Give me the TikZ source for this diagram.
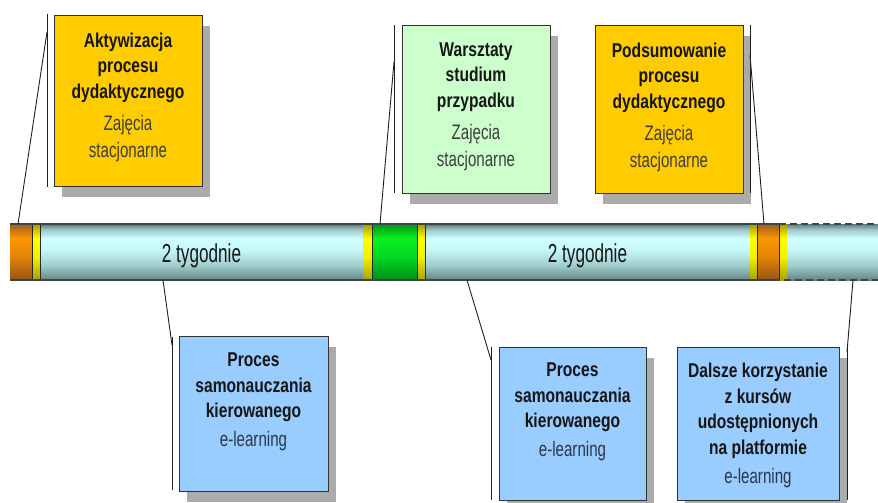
\documentclass[tikz,border=0pt]{standalone}
\usepackage{fontspec}
\setmainfont{Liberation Sans}
\newfontfamily\titlefont{Liberation Sans}[FakeStretch=0.78]
\newfontfamily\subfont{Liberation Sans}[FakeStretch=0.72]
\newfontfamily\barfont{Liberation Sans}[FakeStretch=0.66]
\usetikzlibrary{shadows}

% panel colours
\definecolor{boxgold}{RGB}{255,204,0}
\definecolor{boxmint}{RGB}{204,255,204}
\definecolor{boxblue}{RGB}{153,204,255}
\definecolor{inkdark}{RGB}{22,22,22}
\definecolor{inksub}{RGB}{62,62,62}
\definecolor{inksubblue}{RGB}{45,55,75}
\definecolor{rimdark}{RGB}{60,70,70}

% time bar colours (bottom -> top)
\definecolor{cyA}{RGB}{100,132,132}
\definecolor{cyB}{RGB}{160,205,205}
\definecolor{cyC}{RGB}{198,248,248}
\definecolor{cyD}{RGB}{208,255,255}
\definecolor{cyE}{RGB}{160,200,200}
\definecolor{cyF}{RGB}{92,122,122}
\definecolor{orA}{RGB}{150,85,20}
\definecolor{orB}{RGB}{225,130,10}
\definecolor{orC}{RGB}{252,150,0}
\definecolor{orD}{RGB}{160,95,30}
\definecolor{grA}{RGB}{0,140,20}
\definecolor{grB}{RGB}{0,215,35}
\definecolor{grC}{RGB}{10,240,30}
\definecolor{grD}{RGB}{0,150,20}
\definecolor{ylA}{RGB}{165,160,0}
\definecolor{ylB}{RGB}{240,240,0}
\definecolor{ylC}{RGB}{255,255,0}
\definecolor{ylD}{RGB}{165,155,0}

\pgfdeclareverticalshading{cyanband}{100bp}{color(0bp)=(cyA); color(25bp)=(cyA);
  color(38bp)=(cyB); color(52bp)=(cyC); color(62bp)=(cyD); color(70bp)=(cyE);
  color(75bp)=(cyF); color(100bp)=(cyF)}
\pgfdeclareverticalshading{orangeband}{100bp}{color(0bp)=(orA); color(25bp)=(orA);
  color(45bp)=(orB); color(62bp)=(orC); color(75bp)=(orD); color(100bp)=(orD)}
\pgfdeclareverticalshading{greenband}{100bp}{color(0bp)=(grA); color(25bp)=(grA);
  color(45bp)=(grB); color(62bp)=(grC); color(75bp)=(grD); color(100bp)=(grD)}
\pgfdeclareverticalshading{yellowband}{100bp}{color(0bp)=(ylA); color(25bp)=(ylA);
  color(45bp)=(ylB); color(62bp)=(ylC); color(75bp)=(ylD); color(100bp)=(ylD)}

\newcommand\subline[2]{{\fontsize{21}{27}\subfont\mdseries\color{#1}#2}}

\tikzset{
  panel/.style={draw=black!80, line width=0.9pt, inner sep=0pt, outer sep=0pt,
    drop shadow={shadow xshift=8pt, shadow yshift=-11pt, fill=black!33, opacity=1}},
  paneltext/.style={anchor=north, align=center, inner sep=0pt,
    font=\fontsize{20}{25.5}\titlefont\bfseries, text=inkdark},
  seg/.style={shade, inner sep=0pt, outer sep=0pt, minimum height=56pt},
  bartext/.style={anchor=base, inner sep=0pt, font=\fontsize{26}{30}\barfont, text=inkdark},
  sepline/.style={draw=black!85, line width=0.7pt},
  rimline/.style={draw=rimdark, line width=1.6pt},
  tailline/.style={draw=rimdark, line width=2.4pt, dash pattern=on 7pt off 4pt},
  callout/.style={draw=black!88, line width=0.9pt},
}

\begin{document}
\begin{tikzpicture}[x=1pt, y=-1pt]
\useasboundingbox (0,0) rectangle (878,503);

% ---------- time bar ----------
\node[seg, shading=orangeband, minimum width=22pt]  (o1) at (21,252) {};
\node[seg, shading=yellowband, minimum width=8pt]   (y1) at (36,252) {};
\node[seg, shading=cyanband,   minimum width=323pt] (c1) at (201.5,252) {};
\node[seg, shading=yellowband, minimum width=9pt]   (y2) at (367.5,252) {};
\node[seg, shading=greenband,  minimum width=45pt]  (g1) at (394.5,252) {};
\node[seg, shading=yellowband, minimum width=8pt]   (y3) at (421,252) {};
\node[seg, shading=cyanband,   minimum width=325pt] (c2) at (587.5,252) {};
\node[seg, shading=yellowband, minimum width=7pt]   (y4) at (753.5,252) {};
\node[seg, shading=orangeband, minimum width=22pt]  (o2) at (768,252) {};
\node[seg, shading=yellowband, minimum width=8pt]   (y5) at (783,252) {};
\node[seg, shading=cyanband,   minimum width=91pt]  (c3) at (832.5,252) {};

% segment borders
\foreach \s in {o1,y1,y2,g1,y3,y4,o2}
  \draw[sepline] (\s.north east) -- (\s.south east);
\draw[rimline] (o1.north west) -- (o2.north east);
\draw[rimline] (o1.south west) -- (o2.south east);
\draw[tailline] (o2.north east) -- (c3.north east);
\draw[tailline] ([xshift=-6pt]o2.south east) -- (c3.south east);

\node[bartext] (w1) at (201.5,262) {2 tygodnie};
\node[bartext] (w2) at (587.5,262) {2 tygodnie};

% ---------- panels above the bar ----------
\node[panel, fill=boxgold, minimum width=148pt, minimum height=171pt] (p1) at (128,100.5) {};
\node[paneltext] (t1) at ([yshift=-17.5pt]p1.north)
  {Aktywizacja\\procesu\\dydaktycznego\\[6.5pt]\subline{inksub}{Zajęcia}\\[1.5pt]\subline{inksub}{stacjonarne}};

\node[panel, fill=boxmint, minimum width=148pt, minimum height=168pt] (p2) at (476,109) {};
\node[paneltext] (t2) at ([yshift=-17.5pt]p2.north)
  {Warsztaty\\studium\\przypadku\\[6.5pt]\subline{inksub}{Zajęcia}\\[1.5pt]\subline{inksub}{stacjonarne}};

\node[panel, fill=boxgold, minimum width=148pt, minimum height=168pt] (p3) at (669,109) {};
\node[paneltext] (t3) at ([yshift=-17.5pt]p3.north)
  {Podsumowanie\\procesu\\dydaktycznego\\[6.5pt]\subline{inksub}{Zajęcia}\\[1.5pt]\subline{inksub}{stacjonarne}};

% ---------- panels below the bar ----------
\node[panel, fill=boxblue, minimum width=149pt, minimum height=155pt] (p4) at (253.5,413.5) {};
\node[paneltext] (t4) at ([yshift=-17pt]p4.north)
  {Proces\\samonauczania\\kierowanego\\[3.5pt]\subline{inksubblue}{e-learning}};

\node[panel, fill=boxblue, minimum width=147pt, minimum height=153pt] (p5) at (572.5,423.5) {};
\node[paneltext] (t5) at ([yshift=-16pt]p5.north)
  {Proces\\samonauczania\\kierowanego\\[3.5pt]\subline{inksubblue}{e-learning}};

\node[panel, fill=boxblue, minimum width=162pt, minimum height=153pt] (p6) at (758,423.5) {};
\node[paneltext] (t6) at ([yshift=-16pt]p6.north)
  {Dalsze korzystanie\\z kursów\\udostępnionych\\na platformie\\[3.5pt]\subline{inksubblue}{e-learning}};

% ---------- callout brackets ----------
\coordinate (vt1) at (47,14);   \coordinate (vb1) at (47,187);  \coordinate (vj1) at (47,32);  \coordinate (bp1) at (18,224);
\coordinate (vt2) at (394,25);  \coordinate (vb2) at (394,193); \coordinate (vj2) at (394,62); \coordinate (bp2) at (380,224);
\coordinate (vt3) at (750,25);  \coordinate (vb3) at (750,193); \coordinate (vj3) at (750,55); \coordinate (bp3) at (764,224);
\coordinate (vt4) at (172,337); \coordinate (vb4) at (172,490); \coordinate (vj4) at (172,345); \coordinate (bp4) at (163,280);
\coordinate (vt5) at (491,347); \coordinate (vb5) at (491,500); \coordinate (vj5) at (491,360); \coordinate (bp5) at (467,280);
\coordinate (vt6) at (847,347); \coordinate (vb6) at (847,500); \coordinate (vj6) at (847,352); \coordinate (bp6) at (853,280);

\foreach \i in {1,...,6} {
  \draw[callout] (vt\i) -- (vb\i);
  \draw[callout] (vj\i) -- (bp\i);
}
\end{tikzpicture}
\end{document}
